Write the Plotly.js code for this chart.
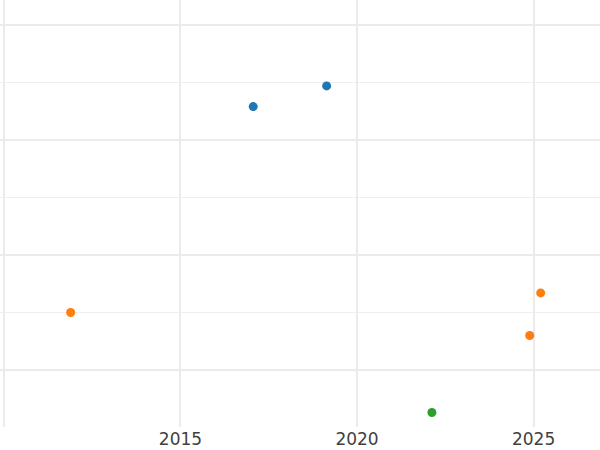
<!DOCTYPE html>
<html>
<head>
<script src="https://cdn.plot.ly/plotly-3.0.1.min.js"></script>
<style>body{margin:0;padding:0;}#chart{width:600px;height:450px;}</style>
</head>
<body>
<div id="chart"></div>
<script>
const blueX = [2017.06, 2019.14];
const blueY = [2.29, 2.47];
const orangeX = [2011.89, 2024.89, 2025.2];
const orangeY = [0.50, 0.30, 0.67];
const greenX = [2022.12];
const greenY = [-0.37];
const xTicks = [2015, 2020, 2025];

const mk = (x, y, c) => ({x: x, y: y, type: 'scatter', mode: 'markers', marker: {color: c, size: 9}, showlegend: false, hoverinfo: 'x+y'});

const data = [
  mk(blueX, blueY, '#1f77b4'),
  mk(orangeX, orangeY, '#ff7f0e'),
  mk(greenX, greenY, '#2ca02c')
];

const layout = {
  width: 600, height: 450,
  margin: {l: 0, r: 0, t: 0, b: 23, pad: 0},
  paper_bgcolor: '#ffffff', plot_bgcolor: '#ffffff',
  showlegend: false,
  xaxis: {
    range: [2009.89, 2026.88],
    tickvals: xTicks, ticktext: xTicks.map(String),
    showgrid: true, gridcolor: '#ebebeb', gridwidth: 2,
    zeroline: false, showline: false, ticks: '',
    tickfont: {family: 'DejaVu Sans', size: 17, color: '#3f3f3f'},
    minor: {dtick: 5, tick0: 2010, showgrid: true, gridcolor: '#ebebeb', gridwidth: 2}
  },
  yaxis: {
    range: [-0.496, 3.217],
    dtick: 1, tick0: 0,
    showgrid: true, gridcolor: '#ebebeb', gridwidth: 2,
    zeroline: false, showline: false, ticks: '', showticklabels: false,
    minor: {dtick: 0.5, showgrid: true, gridcolor: '#efefef', gridwidth: 1}
  }
};

Plotly.newPlot('chart', data, layout, {displayModeBar: false, staticPlot: true});
</script>
</body>
</html>
